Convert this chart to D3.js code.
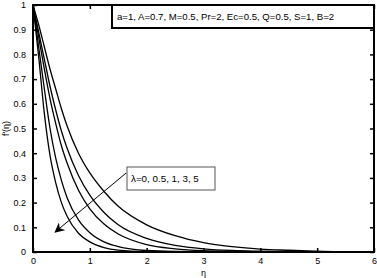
<!DOCTYPE html>
<html lang="en">
<head>
<meta charset="UTF-8">
<title>f'(eta) profiles</title>
<script src="https://d3js.org/d3.v7.min.js"></script>
<style>
    body { margin: 0; background: #fff; }
    svg { display: block; font-family: "Liberation Sans", Arial, sans-serif; }
    .tick text { font-size: 9px; fill: #000; }
    .tick line { stroke: #000; }
    .frame { fill: none; stroke: #000; stroke-width: 2; }
    .curve { fill: none; stroke: #000; stroke-width: 1.3; }
</style>
</head>
<body>
<svg id="chart" width="377" height="278"></svg>
<script>
// eta grid and f'(eta) for lambda = 0, 0.5, 1, 3, 5
const lambdas = [0, 0.5, 1, 3, 5];
const etaValues = [0, 0.1, 0.2, 0.3, 0.4, 0.5, 0.6, 0.8, 1.0, 1.25, 1.5, 2, 2.5, 3, 3.5, 4, 4.5, 5, 5.3];
const fLambda0 = [1, 0.92, 0.83, 0.74, 0.66, 0.58, 0.51, 0.40, 0.32, 0.245, 0.185, 0.11, 0.066, 0.038, 0.022, 0.012, 0.007, 0.003, 0.001];
const fLambda05 = [1, 0.89, 0.78, 0.67, 0.575, 0.49, 0.42, 0.31, 0.23, 0.16, 0.11, 0.055, 0.027, 0.013, 0.006, 0.003, 0.001, 0, 0];
const fLambda1 = [1, 0.87, 0.74, 0.62, 0.52, 0.43, 0.36, 0.25, 0.175, 0.113, 0.073, 0.03, 0.013, 0.005, 0.002, 0.001, 0, 0, 0];
const fLambda3 = [1, 0.83, 0.66, 0.50, 0.38, 0.29, 0.22, 0.13, 0.078, 0.041, 0.022, 0.006, 0.002, 0.001, 0, 0, 0, 0, 0];
const fLambda5 = [1, 0.79, 0.56, 0.39, 0.28, 0.20, 0.145, 0.076, 0.041, 0.018, 0.008, 0.002, 0.001, 0, 0, 0, 0, 0, 0];
const allSeries = [fLambda0, fLambda05, fLambda1, fLambda3, fLambda5];

const xTicks = [0, 1, 2, 3, 4, 5, 6];
const yTicks = [0, 0.1, 0.2, 0.3, 0.4, 0.5, 0.6, 0.7, 0.8, 0.9, 1];

const paramText = "a=1, A=0.7, M=0.5, Pr=2, Ec=0.5, Q=0.5, S=1, B=2";
const lambdaText = "\u03bb=0, 0.5, 1, 3, 5";
// arrow: [eta, f] start and tip
const arrowFrom = [1.64, 0.32];
const arrowTo = [0.39, 0.081];

const svg = d3.select("#chart");
const margin = { top: 5, right: 3, bottom: 26, left: 33 };
const W = 377, H = 278;

const x = d3.scaleLinear().domain([0, 6]).range([margin.left, W - margin.right]);
const y = d3.scaleLinear().domain([0, 1]).range([H - margin.bottom, margin.top]);

const defs = svg.append("defs");
defs.append("marker")
    .attr("id", "head")
    .attr("viewBox", "0 0 10 10")
    .attr("refX", 9).attr("refY", 5)
    .attr("markerWidth", 10).attr("markerHeight", 10)
    .attr("markerUnits", "userSpaceOnUse")
    .attr("orient", "auto")
    .append("path")
    .attr("d", "M0,0 L10,5 L0,10 L3,5 Z")
    .attr("fill", "#000");

// curves
const line = d3.line()
    .x((d, i) => x(etaValues[i]))
    .y(d => y(d))
    .curve(d3.curveMonotoneX);

svg.append("g").selectAll("path")
    .data(allSeries)
    .enter().append("path")
    .attr("class", "curve")
    .attr("d", d => line(d));

// axes with inward ticks on all sides
const plotB = H - margin.bottom, plotT = margin.top;
const plotL = margin.left, plotR = W - margin.right;

svg.append("g")
    .attr("transform", `translate(0,${plotB})`)
    .call(d3.axisBottom(x).tickValues(xTicks).tickSize(-4).tickPadding(6).tickFormat(d3.format("d")))
    .call(g => g.select(".domain").remove());
svg.append("g")
    .attr("transform", `translate(0,${plotT})`)
    .call(d3.axisTop(x).tickValues(xTicks).tickSize(-4).tickFormat(""))
    .call(g => g.select(".domain").remove());
svg.append("g")
    .attr("transform", `translate(${plotL},0)`)
    .call(d3.axisLeft(y).tickValues(yTicks).tickSize(-4).tickPadding(7).tickFormat(d => d3.format("~g")(d)))
    .call(g => g.select(".domain").remove());
svg.append("g")
    .attr("transform", `translate(${plotR},0)`)
    .call(d3.axisRight(y).tickValues(yTicks).tickSize(-4).tickFormat(""))
    .call(g => g.select(".domain").remove());
svg.selectAll(".tick line").attr("stroke-width", 1.5);

svg.append("rect")
    .attr("class", "frame")
    .attr("x", plotL).attr("y", plotT)
    .attr("width", plotR - plotL).attr("height", plotB - plotT);

// axis labels
svg.append("text")
    .attr("x", (plotL + plotR) / 2).attr("y", 276)
    .attr("text-anchor", "middle")
    .attr("font-size", 9)
    .text("\u03b7");
svg.append("text")
    .attr("transform", `translate(9,${(plotT + plotB) / 2}) rotate(-90)`)
    .attr("text-anchor", "middle")
    .attr("font-size", 9)
    .text("f'(\u03b7)");

// parameter box
const pLeft = 112, pBottom = 28;
svg.append("rect")
    .attr("x", pLeft).attr("y", plotT)
    .attr("width", plotR - pLeft).attr("height", pBottom - plotT)
    .attr("fill", "#fff").attr("stroke", "#000").attr("stroke-width", 2);
svg.append("text")
    .attr("x", pLeft + 5).attr("y", 19.5)
    .attr("font-size", 9.6)
    .text(paramText);

// lambda annotation
svg.append("line")
    .attr("x1", x(arrowFrom[0])).attr("y1", y(arrowFrom[1]))
    .attr("x2", x(arrowTo[0])).attr("y2", y(arrowTo[1]))
    .attr("stroke", "#000").attr("stroke-width", 1)
    .attr("marker-end", "url(#head)");
svg.append("rect")
    .attr("x", 127).attr("y", 167)
    .attr("width", 88).attr("height", 23)
    .attr("fill", "#fff").attr("stroke", "#555").attr("stroke-width", 1);
svg.append("text")
    .attr("x", 131).attr("y", 182)
    .attr("font-size", 9.8)
    .text(lambdaText);
</script>
</body>
</html>
